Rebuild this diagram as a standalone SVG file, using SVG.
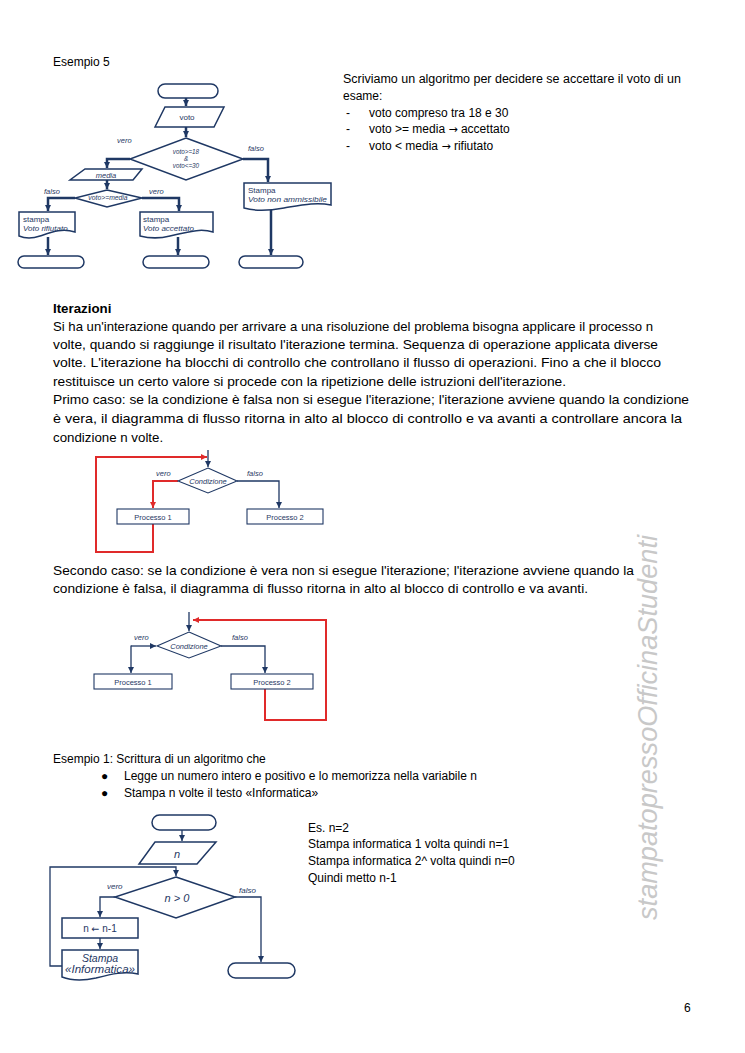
<svg xmlns="http://www.w3.org/2000/svg" width="745" height="1053" viewBox="0 0 745 1053">
<defs>
<style>
.t{font-family:"Liberation Sans",Arial,sans-serif;font-size:13.3px;fill:#000}
.s{font-family:"Liberation Sans",Arial,sans-serif;font-size:12px;fill:#000}
.ar{font-family:"DejaVu Sans",sans-serif}
.lb{font-family:"Liberation Sans",Arial,sans-serif;font-size:7.5px;fill:#1f3864}
.li{font-family:"Liberation Sans",Arial,sans-serif;font-size:7.5px;fill:#1f3864;font-style:italic}
.sh{fill:#fff;stroke:#1f3864;stroke-width:1.5}
.sh2{fill:#fff;stroke:#1f3864;stroke-width:1.1}
.c{fill:none;stroke:#1f3864;stroke-width:2.5}
.c2{fill:none;stroke:#1f3864;stroke-width:1.3}
.r{fill:none;stroke:#e02a2a;stroke-width:2}
</style>
<marker id="ah" viewBox="0 0 6 6" refX="6" refY="3" markerWidth="6" markerHeight="6" markerUnits="userSpaceOnUse" orient="auto"><path d="M0,0 L6,3 L0,6 z" fill="#1f3864"/></marker>
<marker id="ahr" viewBox="0 0 6 6" refX="6" refY="3" markerWidth="6" markerHeight="6" markerUnits="userSpaceOnUse" orient="auto"><path d="M0,0 L6,3 L0,6 z" fill="#e02a2a"/></marker>
</defs>
<rect width="745" height="1053" fill="#fff"/>

<!-- Page text -->
<g id="text">
<text class="s" x="53" y="66">Esempio 5</text>
<text class="s" x="343" y="83" textLength="338" lengthAdjust="spacingAndGlyphs">Scriviamo un algoritmo per decidere se accettare il voto di un</text>
<text class="s" x="343" y="100">esame:</text>
<text class="s" x="346" y="117">-</text><text class="s" x="369" y="117">voto compreso tra 18 e 30</text>
<text class="s" x="346" y="133">-</text><text class="s" x="369" y="133">voto &gt;= media <tspan class="ar" style="font-size:11px">→</tspan> accettato</text>
<text class="s" x="346" y="150">-</text><text class="s" x="369" y="150">voto &lt; media <tspan class="ar" style="font-size:11px">→</tspan> rifiutato</text>

<text class="t" x="53" y="313" font-weight="bold">Iterazioni</text>
<text class="t" x="53" y="331" textLength="600" lengthAdjust="spacingAndGlyphs">Si ha un'interazione quando per arrivare a una risoluzione del problema bisogna applicare il processo n</text>
<text class="t" x="53" y="349" textLength="605" lengthAdjust="spacingAndGlyphs">volte, quando si raggiunge il risultato l'iterazione termina. Sequenza di operazione applicata diverse</text>
<text class="t" x="53" y="367" textLength="608" lengthAdjust="spacingAndGlyphs">volte. L'iterazione ha blocchi di controllo che controllano il flusso di operazioni. Fino a che il blocco</text>
<text class="t" x="53" y="386" textLength="513" lengthAdjust="spacingAndGlyphs">restituisce un certo valore si procede con la ripetizione delle istruzioni dell'iterazione.</text>
<text class="t" x="53" y="404" textLength="636" lengthAdjust="spacingAndGlyphs">Primo caso: se la condizione è falsa non si esegue l'iterazione; l'iterazione avviene quando la condizione</text>
<text class="t" x="53" y="423" textLength="629" lengthAdjust="spacingAndGlyphs">è vera, il diagramma di flusso ritorna in alto al blocco di controllo e va avanti a controllare ancora la</text>
<text class="t" x="53" y="442">condizione n volte.</text>

<text class="t" x="53" y="575" textLength="581" lengthAdjust="spacingAndGlyphs">Secondo caso: se la condizione è vera non si esegue l'iterazione; l'iterazione avviene quando la</text>
<text class="t" x="53" y="593" textLength="535" lengthAdjust="spacingAndGlyphs">condizione è falsa, il diagramma di flusso ritorna in alto al blocco di controllo e va avanti.</text>

<text class="s" x="53" y="763">Esempio 1: Scrittura di un algoritmo che</text>
<text class="s" x="101" y="780">●</text><text class="s" x="124" y="780">Legge un numero intero e positivo e lo memorizza nella variabile n</text>
<text class="s" x="101" y="797">●</text><text class="s" x="124" y="797">Stampa n volte il testo «Informatica»</text>

<text class="s" x="308" y="832">Es. n=2</text>
<text class="s" x="308" y="848">Stampa informatica 1 volta quindi n=1</text>
<text class="s" x="308" y="865">Stampa informatica 2^ volta quindi n=0</text>
<text class="s" x="308" y="882">Quindi metto n-1</text>

<text class="s" x="684" y="1012">6</text>
<text transform="translate(657,920) rotate(-90)" font-family="'Liberation Sans',Arial,sans-serif" font-style="italic" font-size="28" fill="#c8c8c8" textLength="385" lengthAdjust="spacingAndGlyphs">stampatopressoOfficinaStudenti</text>
</g>

<!-- Flowchart: Esempio 5 -->
<g id="fc1-connectors">
<path class="c" d="M186,98 V106" marker-end="url(#ah)"/>
<path class="c" d="M186,127 V137" marker-end="url(#ah)"/>
<path class="c" d="M130,159 H107 V168" marker-end="url(#ah)"/>
<path class="c" d="M107,180 V189" marker-end="url(#ah)"/>
<path class="c" d="M75,198 H48 V211" marker-end="url(#ah)"/>
<path class="c" d="M142,198 H179 V211" marker-end="url(#ah)"/>
<path class="c" d="M243,159 H268 V182" marker-end="url(#ah)"/>
<path class="c" d="M48,237 V255" marker-end="url(#ah)"/>
<path class="c" d="M178,237 V255" marker-end="url(#ah)"/>
<path class="c" d="M271,209 V255" marker-end="url(#ah)"/>
</g>
<g id="fc1-start"><rect class="sh" x="158" y="84" width="60" height="14" rx="7"/></g>
<g id="fc1-voto"><polygon class="sh" points="165,107 224,107 214,127 155,127"/><text class="lb" x="187" y="120" text-anchor="middle" style="font-size:8px">voto</text></g>
<g id="fc1-cond"><polygon class="sh" points="186,138 243,159 186,180 130,159"/>
<text class="li" x="186" y="154" text-anchor="middle" style="font-size:6.3px">voto&gt;=18</text>
<text class="li" x="186" y="160.8" text-anchor="middle" style="font-size:6.3px">&amp;</text>
<text class="li" x="186" y="167.6" text-anchor="middle" style="font-size:6.3px">voto&lt;=30</text></g>
<text class="li" x="117" y="143">vero</text>
<text class="li" x="248" y="151">falso</text>
<g id="fc1-media"><polygon class="sh" points="85,169 142,169 133,180 70,180"/><text class="li" x="106" y="177.5" text-anchor="middle">media</text></g>
<g id="fc1-cond2"><polygon class="sh" points="107,190 142,198 107,207 75,198"/><text class="li" x="108" y="200.4" text-anchor="middle" style="font-size:6.8px">voto&gt;=media</text></g>
<text class="li" x="44" y="194">falso</text>
<text class="li" x="149" y="194">vero</text>
<g id="fc1-rifiutato"><path class="sh" d="M19,212 H75 V232 C62,228 52,232 40,236 C31,239 24,238 19,236 Z"/><text class="lb" x="23" y="222" style="font-size:8px">stampa</text><text class="li" x="23" y="231" style="font-size:8px">Voto rifiutato</text></g>
<g id="fc1-accettato"><path class="sh" d="M140,212 H213 V232 C200,228 188,232 170,236 C158,239 148,238 140,236 Z"/><text class="lb" x="143" y="222" style="font-size:8px">stampa</text><text class="li" x="143" y="231" style="font-size:8px">Voto accettato</text></g>
<g id="fc1-nonamm"><path class="sh" d="M244,183 H331 V205 C316,202 302,205 284,208 C268,211 254,211 244,208 Z"/><text class="lb" x="248" y="193" style="font-size:8px">Stampa</text><text class="li" x="248" y="202" style="font-size:8px" textLength="79" lengthAdjust="spacingAndGlyphs">Voto non ammissibile</text></g>
<g id="fc1-end1"><rect class="sh" x="18" y="256" width="66" height="12" rx="6"/></g>
<g id="fc1-end2"><rect class="sh" x="143" y="256" width="66" height="12" rx="6"/></g>
<g id="fc1-end3"><rect class="sh" x="239" y="256" width="64" height="12" rx="6"/></g>

<!-- Iterazione: primo caso -->
<g id="it1-connectors">
<path class="c2" d="M208,450 V467" marker-end="url(#ah)"/>
<path class="r" d="M153,524 V552 H96 V457 H207" marker-end="url(#ahr)"/>
<path class="r" d="M178,481 H153 V508" marker-end="url(#ahr)"/>
<path class="c2" d="M237,481 H279 V508" marker-end="url(#ah)"/>
</g>
<g id="it1-cond"><polygon class="sh2" points="208,468 237,481 208,493 178,481"/><text class="li" x="208" y="484" text-anchor="middle">Condizione</text></g>
<text class="li" x="156" y="476">vero</text>
<text class="li" x="247" y="476">falso</text>
<g id="it1-p1"><rect class="sh2" x="117" y="509" width="72" height="15"/><text class="lb" x="153" y="519.5" text-anchor="middle">Processo 1</text></g>
<g id="it1-p2"><rect class="sh2" x="247" y="509" width="76" height="15"/><text class="lb" x="285" y="519.5" text-anchor="middle">Processo 2</text></g>

<!-- Iterazione: secondo caso -->
<g id="it2-connectors">
<path class="c2" d="M189,612 V631" marker-end="url(#ah)"/>
<path class="r" d="M265,689 V720 H326 V620 H193" marker-end="url(#ahr)"/>
<path class="c2" d="M131,646 H156" marker-end="url(#ah)"/>
<path class="c2" d="M131,645.4 V673" marker-end="url(#ah)"/>
<path class="c2" d="M221,646 H265 V673" marker-end="url(#ah)"/>
</g>
<g id="it2-cond"><polygon class="sh2" points="189,632 221,646 189,658 157,646"/><text class="li" x="189" y="649" text-anchor="middle">Condizione</text></g>
<text class="li" x="134" y="640">vero</text>
<text class="li" x="232" y="640">falso</text>
<g id="it2-p1"><rect class="sh2" x="94" y="674" width="78" height="15"/><text class="lb" x="133" y="684.5" text-anchor="middle">Processo 1</text></g>
<g id="it2-p2"><rect class="sh2" x="231" y="674" width="82" height="15"/><text class="lb" x="272" y="684.5" text-anchor="middle">Processo 2</text></g>

<!-- Esempio 1 flowchart -->
<g id="fc2-connectors">
<path class="c2" d="M182,830 V841" marker-end="url(#ah)"/>
<path class="c2" d="M62,966 H50 V867 H176 V876" marker-end="url(#ah)"/>
<path class="c2" d="M115,897 H100 V917" marker-end="url(#ah)"/>
<path class="c2" d="M100,938 V949" marker-end="url(#ah)"/>
<path class="c2" d="M235,897 H261 V962" marker-end="url(#ah)"/>
</g>
<g id="fc2-start"><rect class="sh" x="152" y="815" width="64" height="15" rx="7.5"/></g>
<g id="fc2-n"><polygon class="sh" points="155,842 216,842 197,864 139,864"/><text class="li" x="177" y="858" text-anchor="middle" style="font-size:11px">n</text></g>
<g id="fc2-cond"><polygon class="sh" points="176,877 235,897 176,918 115,897"/><text class="li" x="177" y="901.5" text-anchor="middle" style="font-size:11px">n &gt; 0</text></g>
<text class="li" x="107" y="889" style="font-size:8px">vero</text>
<text class="li" x="239" y="893" style="font-size:8px">falso</text>
<g id="fc2-dec"><rect class="sh" x="62" y="918" width="76" height="20"/><text class="lb" x="100" y="932" text-anchor="middle" style="font-size:10px">n <tspan class="ar" style="font-size:9.5px">←</tspan> n-1</text></g>
<g id="fc2-print"><path class="sh" d="M62,950 H138 V974 C124,971 112,974 96,978 C82,981 70,980 62,977 Z"/><text class="li" x="100" y="962" text-anchor="middle" style="font-size:10.5px">Stampa</text><text class="li" x="100" y="973" text-anchor="middle" style="font-size:10.5px" textLength="70" lengthAdjust="spacingAndGlyphs">«Informatica»</text></g>
<g id="fc2-end"><rect class="sh" x="228" y="963" width="67" height="15" rx="7.5"/></g>
</svg>
